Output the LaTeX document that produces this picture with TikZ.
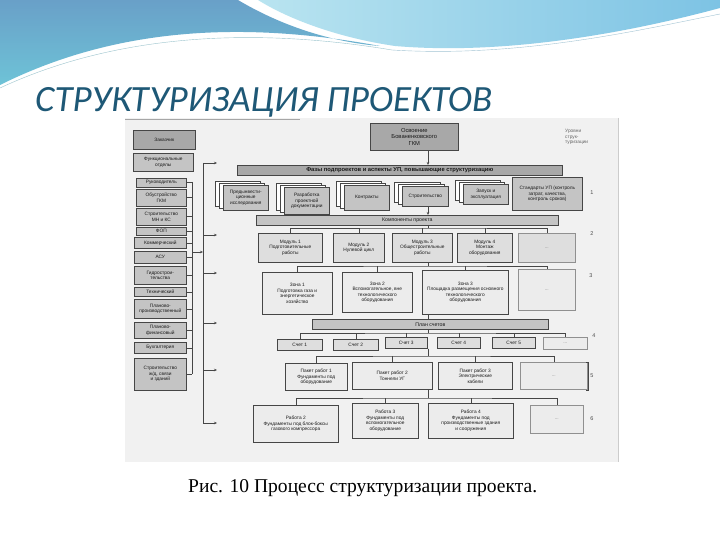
\documentclass[tikz,border=0pt]{standalone}
\usepackage{fontspec}
\setmainfont{Liberation Sans}
\newfontfamily\titlefont{Carlito}
\newfontfamily\captfont{Liberation Serif}
\usetikzlibrary{shadows,arrows.meta}
\definecolor{titleblue}{RGB}{30,88,118}
\definecolor{waveA}{RGB}{105,160,200}
\definecolor{waveA2}{RGB}{110,195,215}
\definecolor{waveC}{RGB}{185,228,240}
\definecolor{waveD}{RGB}{125,195,228}
\definecolor{scanbg}{RGB}{241,241,241}
\definecolor{boxdark}{RGB}{168,168,168}
\definecolor{boxmid}{RGB}{196,196,196}
\definecolor{boxlight}{RGB}{222,222,222}
\definecolor{boxpale}{RGB}{236,236,236}
\definecolor{lineg}{RGB}{70,70,70}
\tikzset{
  dfont/.style={font=\fontsize{4.8}{5.5}\selectfont},
  bx/.style={draw=lineg, line width=0.6pt, align=center, inner sep=0.5pt,
             anchor=north west, dfont, text=black!90},
  lbox/.style={bx, fill=boxmid},
  mbox/.style={bx, fill=boxlight},
  wbox/.style={bx, fill=boxpale},
  ebox/.style={bx, fill=boxpale, draw=lineg!60, text=black!50},
  bar/.style={bx, fill=boxmid, font=\fontsize{5.2}{6}\selectfont},
  phase/.style={bx, fill=boxmid, double copy shadow={shadow xshift=-4pt, shadow yshift=2pt, fill=white, draw=lineg, line width=0.5pt}},
  conn/.style={draw=lineg, line width=0.6pt},
  arr/.style={conn, -{Stealth[length=3pt,width=2.5pt]}},
  lvl/.style={font=\fontsize{5.5}{6}\selectfont, text=black!70, inner sep=0}
}
\begin{document}
\begin{tikzpicture}[x=1pt,y=-1pt]
\useasboundingbox (0,0) rectangle (720,540);
\fill[white] (0,0) rectangle (720,540);
% top decoration
\shade[top color=waveA, bottom color=waveA2]
  (0,0) -- (238,0) .. controls (280,25) and (330,42) .. (380,46)
  .. controls (250,22) and (120,25) .. (0,85) -- cycle;
\shade[left color=waveC, right color=waveD]
  (258,0) -- (720,0) -- (720,8) .. controls (620,35) and (500,55) .. (395,46)
  .. controls (340,38) and (290,20) .. (258,0) -- cycle;
\draw[waveA2!80!black, line width=0.4pt, opacity=0.6] (0,88) .. controls (120,32) and (260,28) .. (392,50);
\draw[waveD!80!black, line width=0.4pt, opacity=0.6] (392,50) .. controls (520,58) and (640,30) .. (720,14);
% title
\node[anchor=base west, inner sep=0, text=titleblue] (title) at (35,112)
  {\resizebox{457pt}{!}{\titlefont\itshape\fontsize{31}{31}\selectfont СТРУКТУРИЗАЦИЯ ПРОЕКТОВ}};
% scan area
\fill[scanbg] (125,118) rectangle (619,462);
\draw[black!35, line width=0.5pt] (125,119) -- (300,119);
\draw[black!20, line width=0.5pt] (618,118) -- (618,462);
% left column
\node[bx, fill=boxdark, minimum width=62pt, minimum height=19pt] (zak) at (133,130) {Заказчик};
\node[lbox, minimum width=60pt, minimum height=18pt] (funk) at (133,153) {Функциональные\\отделы};
\node[lbox, minimum width=50pt, minimum height=9pt] (ruk) at (136,178) {Руководитель};
\node[lbox, minimum width=50pt, minimum height=17pt] (obu) at (136,189) {Обустройство\\ГКМ};
\node[lbox, minimum width=50pt, minimum height=17pt] (strm) at (136,208) {Строительство\\МН и КС};
\node[lbox, minimum width=50pt, minimum height=8pt] (fop) at (136,227) {ФОП};
\node[lbox, minimum width=52pt, minimum height=11pt] (kom) at (134,237) {Коммерческий};
\node[lbox, minimum width=52pt, minimum height=12pt] (asu) at (134,251) {АСУ};
\node[lbox, minimum width=52pt, minimum height=18pt] (gid) at (134,266) {Гидрострои-\\тельства};
\node[lbox, minimum width=52pt, minimum height=9pt] (teh) at (134,287) {Технический};
\node[lbox, minimum width=52pt, minimum height=19pt] (plpr) at (134,299) {Планово-\\производственный};
\node[lbox, minimum width=52pt, minimum height=16pt] (plfin) at (134,322) {Планово-\\финансовый};
\node[lbox, minimum width=52pt, minimum height=11pt] (buh) at (134,342) {Бухгалтерия};
\node[lbox, minimum width=52pt, minimum height=32pt] (stroj) at (134,358) {Строительство\\ж/д, связи\\и зданий};
% bracket and distribution line
\coordinate (brT) at (192,182);
\coordinate (brB) at (192,374);
\draw[conn] (brT) -- (brB);
\foreach \n in {ruk,obu,strm,fop,kom,asu,gid,teh,plpr,plfin,buh,stroj}
  \draw[conn] (\n.east) -- (\n.east -| brT);
\coordinate (brM) at (192,252);
\coordinate (dT) at (203,163);
\coordinate (dB) at (203,423);
\draw[arr] (brM) -- (brM -| dT);
\draw[conn] (dT) -- (dB);
\foreach \yy in {163,235,273,323,370,423}
  \draw[arr] (203,\yy) -- (217,\yy);
% top box and header
\node[bx, fill=boxdark, minimum width=88pt, minimum height=27pt, font=\fontsize{5.8}{6.6}\selectfont] (top) at (370,123) {Освоение\\Бованенковского\\ГКМ};
\node[bar, fill=boxdark, minimum width=325pt, minimum height=10pt, font=\fontsize{5.8}{6}\selectfont\bfseries] (hdr) at (237,165) {Фазы подпроектов и аспекты УП, повышающие структуризацию};
\draw[arr] (top.south -| 428,0) -- (hdr.north -| 428,0);
% phases
\node[phase, minimum width=45pt, minimum height=25pt] (p1) at (223,185) {Предынвести-\\ционные\\исследования};
\node[phase, minimum width=45pt, minimum height=27pt] (p2) at (284,187) {Разработка\\проектной\\документации};
\node[phase, minimum width=45pt, minimum height=25pt] (p3) at (344,185) {Контракты};
\node[phase, minimum width=46pt, minimum height=20pt] (p4) at (402,186) {Строительство};
\node[phase, minimum width=45pt, minimum height=20pt] (p5) at (463,184) {Запуск и\\эксплуатация};
\node[lbox, minimum width=70pt, minimum height=33pt] (p6) at (512,177) {Стандарты УП (контроль\\затрат, качества,\\контроль сроков)};
\node[anchor=north west, dfont, text=black!60, align=left, inner sep=0] (note) at (565,129) {Уровни\\струк-\\туризации};
% components
\node[bar, minimum width=302pt, minimum height=10pt] (komp) at (256,215) {Компоненты проекта};
\draw[arr] (p4.south -| 428,0) -- (komp.north -| 428,0);
\node[mbox, minimum width=64pt, minimum height=29pt] (m1) at (258,233) {Модуль 1\\Подготовительные\\работы};
\node[mbox, minimum width=51pt, minimum height=29pt] (m2) at (333,233) {Модуль 2\\Нулевой цикл};
\node[mbox, minimum width=60pt, minimum height=29pt] (m3) at (392,233) {Модуль 3\\Общестроительные\\работы};
\node[mbox, minimum width=55pt, minimum height=29pt] (m4) at (457,233) {Модуль 4\\Монтаж\\оборудования};
\node[ebox, fill=boxlight, minimum width=57pt, minimum height=29pt] (m5) at (518,233) {...};
\draw[conn] (komp.south -| 428,0) -- (428,228);
\draw[conn] (m1.north) |- (428,228) -| (m5.north);
\foreach \n in {m2,m3,m4} \draw[conn] (\n.north) -- (\n.north |- 0,228);
% zones
\node[wbox, minimum width=70pt, minimum height=42pt] (z1) at (262,272) {Зона 1\\Подготовка газа и\\энергетическое\\хозяйство};
\node[wbox, minimum width=70pt, minimum height=40pt] (z2) at (342,272) {Зона 2\\Вспомогательное, вне\\технологического\\оборудования};
\node[wbox, minimum width=86pt, minimum height=44pt] (z3) at (422,270) {Зона 3\\Площадка размещения основного\\технологического\\оборудования};
\node[ebox, minimum width=57pt, minimum height=41pt] (z4) at (518,269) {...};
\draw[conn] (m3.south -| 428,0) -- (428,266);
\draw[conn] (z1.north) |- (428,266) -| (z4.north);
\foreach \n in {z2,z3} \draw[conn] (\n.north) -- (\n.north |- 0,266);
% accounts
\node[bar, minimum width=236pt, minimum height=10pt] (plan) at (312,319) {План счетов};
\draw[conn] (z3.south -| 428,0) -- (plan.north -| 428,0);
\node[mbox, minimum width=45pt, minimum height=11pt] (a1) at (277,339) {Счет 1};
\node[mbox, minimum width=45pt, minimum height=11pt] (a2) at (333,339) {Счет 2};
\node[mbox, minimum width=42pt, minimum height=11pt] (a3) at (385,337) {Счет 3};
\node[mbox, minimum width=43pt, minimum height=11pt] (a4) at (437,337) {Счет 4};
\node[mbox, minimum width=43pt, minimum height=11pt] (a5) at (492,337) {Счет 5};
\node[ebox, minimum width=44pt, minimum height=12pt] (a6) at (543,337) {...};
\draw[conn] (plan.south -| 428,0) -- (428,333);
\draw[conn] (a1.north) |- (428,333) -| (a6.north);
\foreach \n in {a2,a3,a4,a5} \draw[conn] (\n.north) -- (\n.north |- 0,333);
% packages
\node[wbox, minimum width=62pt, minimum height=27pt] (k1) at (285,363) {Пакет работ 1\\Фундаменты под\\оборудование};
\node[wbox, minimum width=80pt, minimum height=27pt] (k2) at (352,362) {Пакет работ 2\\Тоннели УГ};
\node[wbox, minimum width=74pt, minimum height=27pt] (k3) at (438,362) {Пакет работ 3\\Электрические\\кабели};
\node[ebox, minimum width=67pt, minimum height=27pt] (k4) at (520,362) {...};
\draw[conn] (a3.south -| 428,0) -- (428,356);
\draw[conn] (k1.north) |- (428,356) -| (k4.north);
\foreach \n in {k2,k3} \draw[conn] (\n.north) -- (\n.north |- 0,356);
% works
\node[wbox, minimum width=85pt, minimum height=37pt] (w1) at (253,405) {Работа 2\\Фундаменты под блок-боксы\\газового компрессора};
\node[wbox, minimum width=66pt, minimum height=35pt] (w2) at (352,403) {Работа 3\\Фундаменты под\\вспомогательное\\оборудование};
\node[wbox, minimum width=85pt, minimum height=35pt] (w3) at (428,403) {Работа 4\\Фундаменты под\\производственные здания\\и сооружения};
\node[ebox, minimum width=53pt, minimum height=28pt] (w4) at (530,405) {...};
\draw[conn] (k2.south -| 428,0) -- (428,398);
\draw[conn] (w1.north) |- (428,398) -| (w4.north);
\foreach \n in {w2,w3} \draw[conn] (\n.north) -- (\n.north |- 0,398);
% level numbers
\node[lvl] (l1) at (592,193) {1};
\node[lvl] (l2) at (592,234) {2};
\node[lvl] (l3) at (591,276) {3};
\node[lvl] (l4) at (594,336) {4};
\node[lvl] (l5) at (592,376) {5};
\node[lvl] (l6) at (592,419) {6};
\draw[conn] (586,362) -- (588,362) -- (588,390) -- (586,390);
% caption
\node[anchor=base west, inner sep=0] (cap) at (188,492) {\resizebox{349pt}{!}{\captfont Рис. 10 Процесс структуризации проекта.}};
\end{tikzpicture}
\end{document}
